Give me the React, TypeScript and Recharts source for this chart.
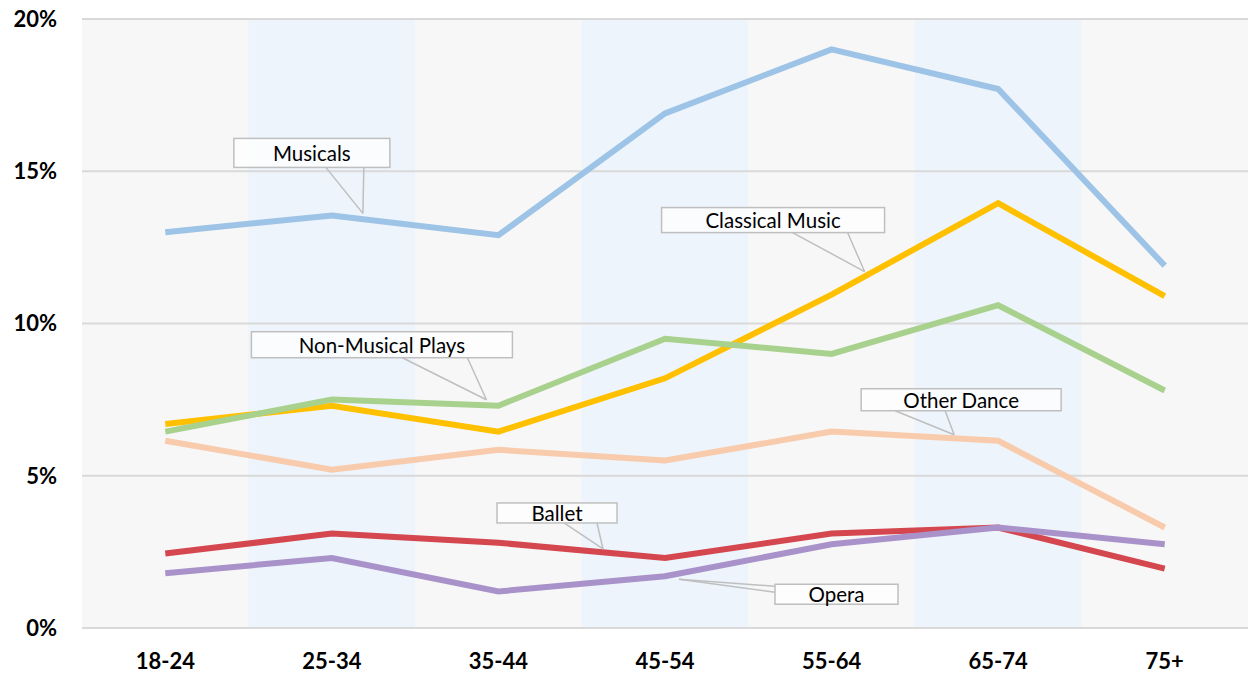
import React from "react";
import {
  ComposedChart,
  Line,
  XAxis,
  YAxis,
  CartesianGrid,
  ReferenceArea,
  ReferenceLine,
} from "recharts";

const ageGroups = ["18-24", "25-34", "35-44", "45-54", "55-64", "65-74", "75+"];
const musicals = [13.0, 13.55, 12.9, 16.9, 19.0, 17.7, 11.9];
const classicalMusic = [6.7, 7.3, 6.45, 8.2, 10.95, 13.95, 10.9];
const nonMusicalPlays = [6.45, 7.5, 7.3, 9.5, 9.0, 10.6, 7.8];
const otherDance = [6.15, 5.2, 5.85, 5.5, 6.45, 6.15, 3.3];
const ballet = [2.45, 3.1, 2.8, 2.3, 3.1, 3.3, 1.95];
const opera = [1.8, 2.3, 1.2, 1.7, 2.75, 3.3, 2.75];
const yTicks = [0, 5, 10, 15, 20];
const shadedGroups = ["25-34", "45-54", "65-74"];

const data = ageGroups.map((age, i) => ({
  age,
  musicals: musicals[i],
  classical: classicalMusic[i],
  plays: nonMusicalPlays[i],
  dance: otherDance[i],
  ballet: ballet[i],
  opera: opera[i],
}));

const FONT = "Lato, 'Open Sans', sans-serif";

// callout geometry, relative to the pointer tip
type Callout = {
  text: string;
  index: number;
  dx: number;
  dy: number;
  box: [number, number, number, number];
  base: [number, number, number, number];
};

function makeLabel(c: Callout) {
  return (props: any) => {
    if (props.index !== c.index) return null;
    const tx = props.x + c.dx;
    const ty = props.y + c.dy;
    const [bx, by, bw, bh] = c.box;
    const [x1, y1, x2, y2] = c.base;
    return (
      <g>
        <line x1={tx + x1} y1={ty + y1} x2={tx} y2={ty} stroke="#BFBFBF" strokeWidth={1.5} />
        <line x1={tx + x2} y1={ty + y2} x2={tx} y2={ty} stroke="#BFBFBF" strokeWidth={1.5} />
        <rect
          x={tx + bx}
          y={ty + by}
          width={bw}
          height={bh}
          fill="#FFFFFF"
          fillOpacity={0.75}
          stroke="#BFBFBF"
          strokeWidth={1.5}
        />
        <text
          x={tx + bx + bw / 2}
          y={ty + by + bh / 2}
          textAnchor="middle"
          dominantBaseline="central"
          fontFamily={FONT}
          fontSize={20.5}
          fill="#000"
        >
          {c.text}
        </text>
      </g>
    );
  };
}

const calloutMusicals: Callout = { text: "Musicals", index: 1, dx: 31, dy: -2, box: [-129, -75, 156, 29], base: [-37, -46, 1, -46] };
const calloutClassical: Callout = { text: "Classical Music", index: 4, dx: 33, dy: -23, box: [-203, -64, 223, 25], base: [-72, -39, -17, -39] };
const calloutPlays: Callout = { text: "Non-Musical Plays", index: 2, dx: -12, dy: -6, box: [-235, -68, 261, 26], base: [-84, -42, -19, -42] };
const calloutDance: Callout = { text: "Other Dance", index: 5, dx: -44, dy: -6, box: [-93, -46, 200, 22], base: [-59, -24, -9, -24] };
const calloutBallet: Callout = { text: "Ballet", index: 3, dx: -62, dy: -9, box: [-106, -46, 120, 20], base: [-39, -26, -6, -26] };
const calloutOpera: Callout = { text: "Opera", index: 3, dx: 14, dy: 3, box: [96, 5, 123, 20], base: [96, 7, 96, 13] };

export default function App() {
  return (
    <div style={{ position: "absolute", left: 0, top: 0, background: "#fff" }}>
      <ComposedChart width={1248} height={675} data={data} margin={{ top: 19, right: 0, bottom: 0, left: 0 }}>
        <CartesianGrid horizontal={false} vertical={false} fill="#F7F7F7" />
        {shadedGroups.map((g) => (
          <ReferenceArea key={g} x1={g} x2={g} y1={0} y2={20} fill="#EDF4FB" fillOpacity={1} stroke="none" />
        ))}
        {yTicks.map((t) => (
          <ReferenceLine key={t} y={t} stroke="#D9D9D9" strokeWidth={2} />
        ))}
        <XAxis
          dataKey="age"
          scale="band"
          axisLine={false}
          tickLine={false}
          tickSize={0}
          tickMargin={25}
          height={47}
          tick={{ fontFamily: FONT, fontSize: 22, fontWeight: 700, fill: "#000" }}
        />
        <YAxis
          domain={[0, 20]}
          ticks={yTicks}
          axisLine={false}
          tickLine={false}
          tickSize={0}
          tickMargin={25}
          width={82}
          tickFormatter={(v) => `${v}%`}
          tick={{ fontFamily: FONT, fontSize: 22, fontWeight: 700, fill: "#000" }}
        />
        <Line dataKey="dance" stroke="#F8CBAD" strokeWidth={6} dot={false} isAnimationActive={false} label={makeLabel(calloutDance)} />
        <Line dataKey="classical" stroke="#FFC000" strokeWidth={6} dot={false} isAnimationActive={false} label={makeLabel(calloutClassical)} />
        <Line dataKey="plays" stroke="#A9D18E" strokeWidth={6} dot={false} isAnimationActive={false} label={makeLabel(calloutPlays)} />
        <Line dataKey="musicals" stroke="#9DC3E6" strokeWidth={6} dot={false} isAnimationActive={false} label={makeLabel(calloutMusicals)} />
        <Line dataKey="ballet" stroke="#D4474F" strokeWidth={6} dot={false} isAnimationActive={false} label={makeLabel(calloutBallet)} />
        <Line dataKey="opera" stroke="#A892C9" strokeWidth={6} dot={false} isAnimationActive={false} label={makeLabel(calloutOpera)} />
      </ComposedChart>
    </div>
  );
}
